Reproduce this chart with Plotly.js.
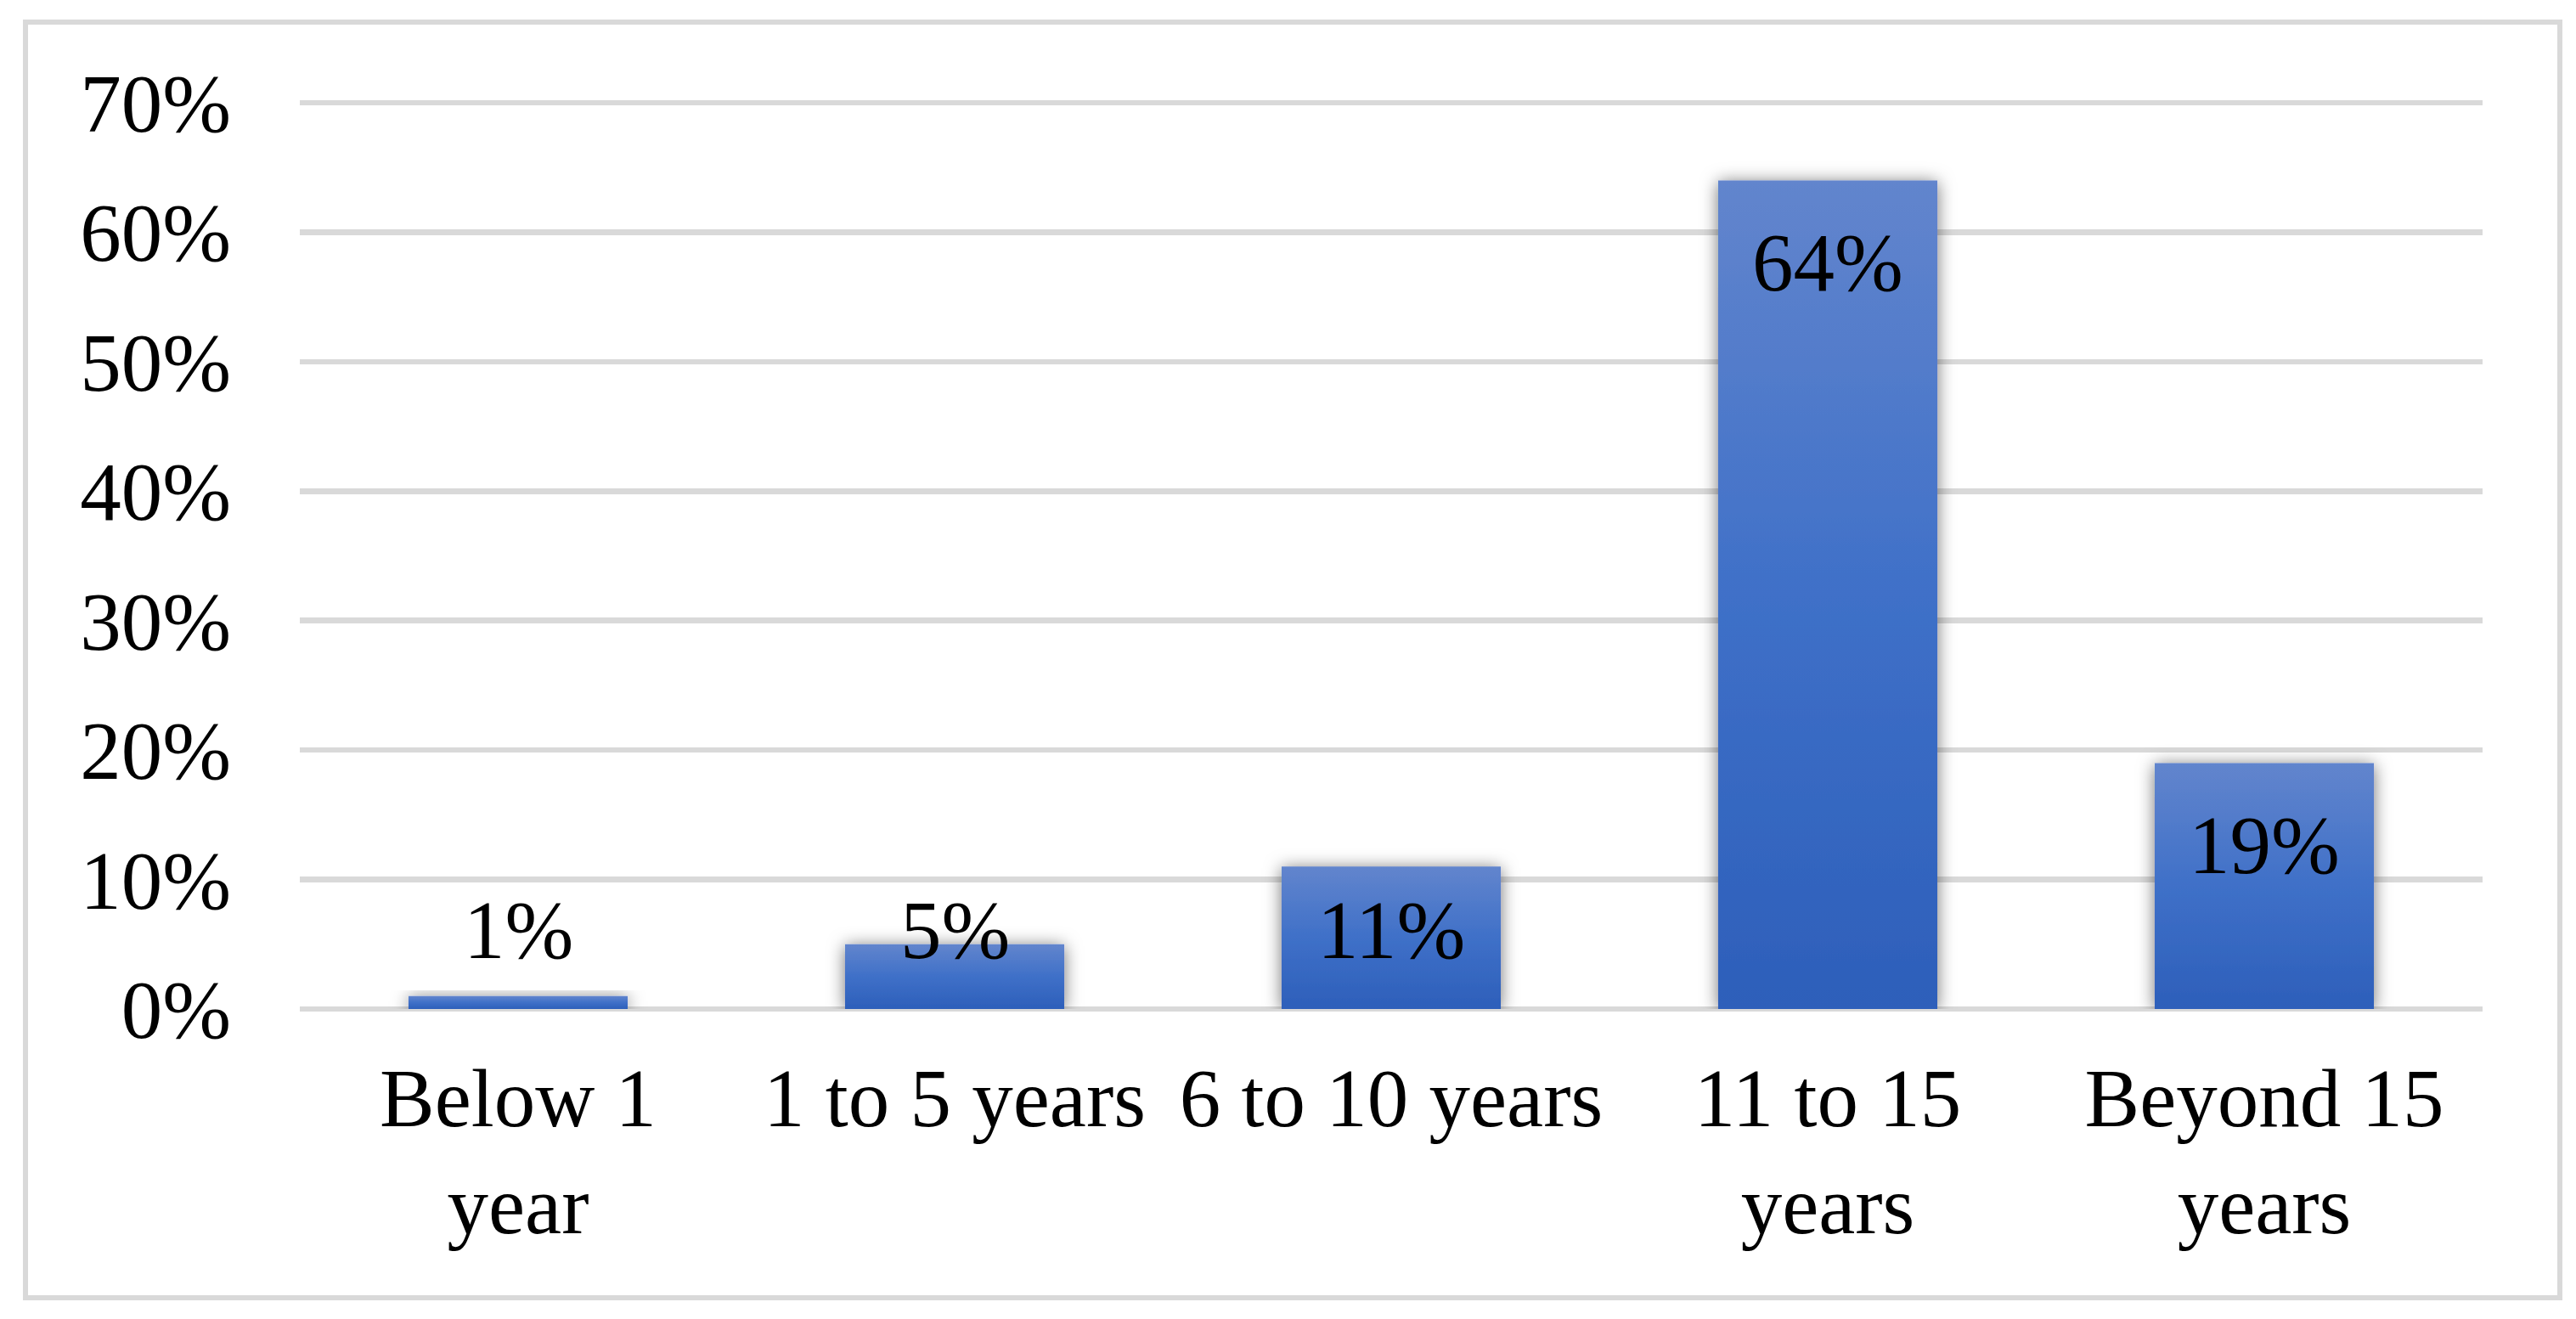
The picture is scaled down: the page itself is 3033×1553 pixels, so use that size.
<!DOCTYPE html>
<html>
<head>
<meta charset="utf-8">
<script src="https://cdn.plot.ly/plotly-3.0.1.min.js"></script>
<style>
  html, body { margin: 0; padding: 0; background: #ffffff; }
  #wrap { position: relative; width: 3033px; height: 1553px; }
  #chart { position: absolute; left: 0; top: 0; width: 3033px; height: 1553px; }
  #frame { position: absolute; left: 27px; top: 23px; width: 2978px; height: 1496px;
           border: 6px solid #d9d9d9; pointer-events: none; }
</style>
</head>
<body>
<div id="wrap">
  <div id="chart"></div>
  <div id="frame"></div>
</div>
<script>
// ---- data ----
const categories = ["Below 1 year", "1 to 5 years", "6 to 10 years", "11 to 15 years", "Beyond 15 years"];
const tickLabels = ["Below 1<br>year", "1 to 5 years", "6 to 10 years", "11 to 15<br>years", "Beyond 15<br>years"];
const shares = [1, 5, 11, 64, 19];
const yTicks = [0, 10, 20, 30, 40, 50, 60, 70];

const FONT = "Liberation Serif, Times New Roman, serif";
const FS = 97;

// data labels: inside the top of the bar, pushed up for short bars
const labelAnnotations = categories.map((c, i) => ({
  x: c,
  y: Math.max(shares[i] - 6.36, 6.07),
  xref: "x", yref: "y",
  text: shares[i] + "%",
  showarrow: false,
  xanchor: "center", yanchor: "middle",
  font: { family: FONT, size: FS, color: "#000000" }
}));

const trace = {
  type: "bar",
  x: categories,
  y: shares,
  marker: { color: "#4472c4", line: { width: 0 } },
  hoverinfo: "none"
};

const layout = {
  width: 3033,
  height: 1553,
  paper_bgcolor: "rgba(0,0,0,0)",
  plot_bgcolor: "rgba(0,0,0,0)",
  margin: { l: 353, r: 110, t: 118.45, b: 364.5, pad: 0 },
  bargap: 0.498,
  showlegend: false,
  font: { family: FONT, size: FS, color: "#000000" },
  xaxis: {
    type: "category",
    tickvals: categories,
    ticktext: tickLabels,
    showgrid: false,
    showline: false,
    zeroline: false,
    ticks: "",
    tickangle: 0,
    ticklabelstandoff: 40,
    tickfont: { family: FONT, size: FS, color: "#000000" }
  },
  yaxis: {
    range: [0, 70.2],
    tickvals: yTicks,
    ticktext: yTicks.map(v => v + "%"),
    showgrid: true,
    gridcolor: "#d9d9d9",
    gridwidth: 6.5,
    zeroline: true,
    zerolinecolor: "#d9d9d9",
    zerolinewidth: 6.5,
    showline: false,
    ticks: "",
    ticklabelstandoff: 80,
    tickfont: { family: FONT, size: FS, color: "#000000" }
  },
  annotations: labelAnnotations
};

Plotly.newPlot("chart", [trace], layout, { staticPlot: true, displayModeBar: false }).then(gd => {
  const svg = gd.querySelector(".main-svg");
  const NS = "http://www.w3.org/2000/svg";
  let defs = svg.querySelector("defs");
  if (!defs) { defs = document.createElementNS(NS, "defs"); svg.insertBefore(defs, svg.firstChild); }

  const grad = document.createElementNS(NS, "linearGradient");
  grad.setAttribute("id", "barGrad");
  grad.setAttribute("x1", "0"); grad.setAttribute("y1", "0");
  grad.setAttribute("x2", "0"); grad.setAttribute("y2", "1");
  [["0", "#6285cd"], ["0.5", "#3f70c8"], ["1", "#2d5fba"]].forEach(([o, c]) => {
    const s = document.createElementNS(NS, "stop");
    s.setAttribute("offset", o); s.setAttribute("stop-color", c);
    grad.appendChild(s);
  });
  defs.appendChild(grad);

  const filt = document.createElementNS(NS, "filter");
  filt.setAttribute("id", "barShadow");
  filt.setAttribute("x", "-40%"); filt.setAttribute("y", "-40%");
  filt.setAttribute("width", "180%"); filt.setAttribute("height", "180%");
  const ds = document.createElementNS(NS, "feDropShadow");
  ds.setAttribute("dx", "0"); ds.setAttribute("dy", "2");
  ds.setAttribute("stdDeviation", "10");
  ds.setAttribute("flood-color", "#000000");
  ds.setAttribute("flood-opacity", "0.55");
  filt.appendChild(ds);
  defs.appendChild(filt);

  gd.querySelectorAll(".bars .point path").forEach(p => {
    p.style.fill = "url(#barGrad)";
    p.style.filter = "url(#barShadow)";
  });
});
</script>
</body>
</html>
